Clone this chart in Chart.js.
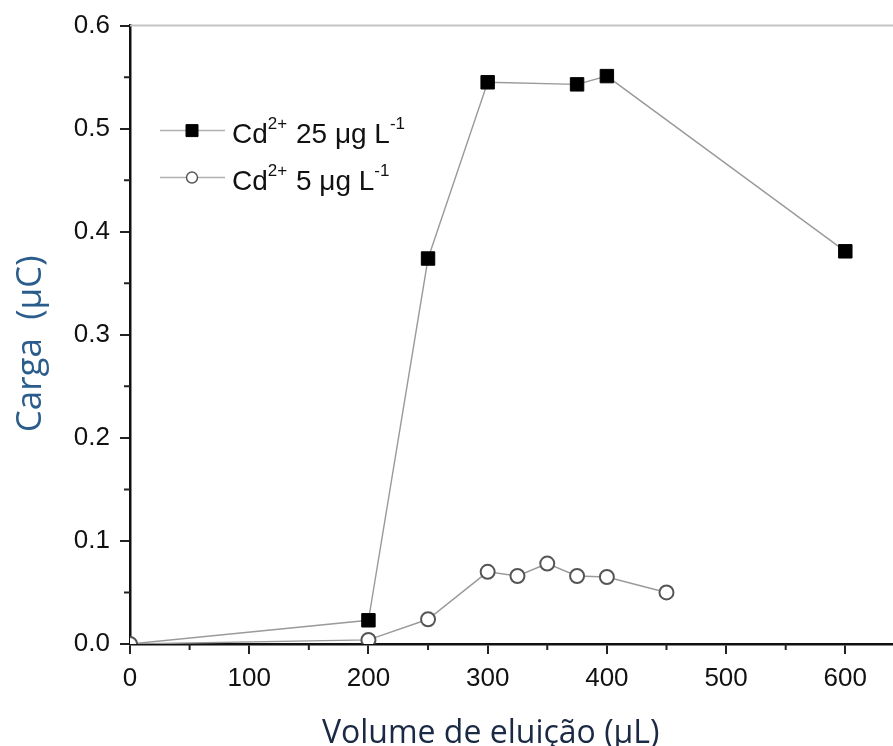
<!DOCTYPE html>
<html>
<head>
<meta charset="utf-8">
<script src="https://cdn.jsdelivr.net/npm/chart.js@4.4.1/dist/chart.umd.min.js"></script>
<style>
  html, body { margin: 0; padding: 0; background: #fff; overflow: hidden; }
  #wrap { width: 893px; height: 746px; }
</style>
</head>
<body>
<div id="wrap"><canvas id="chart"></canvas></div>
<script>
// Dados
const volume25 = [0, 200, 250, 300, 375, 400, 600];
const carga25 = [0, 0.023, 0.374, 0.545, 0.543, 0.551, 0.381];

const volume5 = [0, 200, 250, 300, 325, 350, 375, 400, 450];
const carga5 = [0, 0.004, 0.024, 0.070, 0.066, 0.078, 0.066, 0.065, 0.050];

// legenda com sobrescritos: [texto, sobrescrito?]
const legend25 = [['Cd', false], ['2+', true], [' 25 μg L', false], ['-1', true]];
const legend5 = [['Cd', false], ['2+', true], [' 5 μg L', false], ['-1', true]];

const xTitle = 'Volume de eluição (μL)';
const yTitle = 'Carga  (μC)';

const toPoints = (xs, ys) => xs.map((x, i) => ({ x: x, y: ys[i] }));

// Legenda desenhada dentro da área do gráfico
const insideLegend = {
    id: 'insideLegend',
    afterDraw(chart) {
        const ctx = chart.ctx;
        const area = chart.chartArea;
        const rows = [legend25, legend5];
        ctx.save();
        rows.forEach((parts, i) => {
            const ds = chart.data.datasets[i];
            const y = area.top + 105 + i * 47;
            const x0 = area.left + 30;
            ctx.strokeStyle = '#b0b0b0';
            ctx.lineWidth = 1.5;
            ctx.beginPath();
            ctx.moveTo(x0, y);
            ctx.lineTo(x0 + 65, y);
            ctx.stroke();
            ctx.fillStyle = ds.pointBackgroundColor;
            ctx.strokeStyle = ds.pointBorderColor;
            ctx.lineWidth = ds.pointStyle === 'rect' ? 1 : 1.5;
            ctx.beginPath();
            if (ds.pointStyle === 'rect') {
                ctx.rect(x0 + 26, y - 6, 12, 12);
            } else {
                ctx.arc(x0 + 32, y, 5.5, 0, Math.PI * 2);
            }
            ctx.fill();
            ctx.stroke();

            let x = x0 + 72;
            ctx.fillStyle = '#111';
            ctx.textBaseline = 'alphabetic';
            parts.forEach(([t, sup]) => {
                ctx.font = sup ? '17px "Liberation Sans", Arial' : '28px "Liberation Sans", Arial';
                ctx.fillText(t, x, sup ? y - 2 : y + 12);
                x += ctx.measureText(t).width + (sup ? 1 : 0);
            });
        });
        ctx.restore();
    }
};

// Ticks menores e linha superior cinzenta
const axisExtras = {
    id: 'axisExtras',
    afterDraw(chart) {
        const ctx = chart.ctx;
        const area = chart.chartArea;
        const xs = chart.scales.x;
        const ys = chart.scales.y;
        ctx.save();
        ctx.strokeStyle = '#c4c4c4';
        ctx.lineWidth = 2;
        ctx.beginPath();
        ctx.moveTo(area.left, area.top);
        ctx.lineTo(area.right, area.top);
        ctx.stroke();

        ctx.strokeStyle = '#222';
        ctx.lineWidth = 2;
        ctx.beginPath();
        for (let v = 50; v < xs.max; v += 100) {
            const px = xs.getPixelForValue(v);
            ctx.moveTo(px, area.bottom);
            ctx.lineTo(px, area.bottom + 6);
        }
        for (let v = 0.05; v < ys.max; v += 0.1) {
            const py = ys.getPixelForValue(v);
            ctx.moveTo(area.left, py);
            ctx.lineTo(area.left - 6, py);
        }
        ctx.stroke();
        ctx.restore();
    }
};

new Chart(document.getElementById('chart'), {
    type: 'scatter',
    data: {
        datasets: [
            {
                label: 'Cd2+ 25 μg L-1',
                data: toPoints(volume25, carga25),
                showLine: true,
                borderColor: '#9a9a9a',
                borderWidth: 1.4,
                pointStyle: 'rect',
                pointRadius: ctx => ctx.dataIndex === 0 ? 0 : 9.5,
                pointBackgroundColor: '#000',
                pointBorderColor: '#000',
                pointBorderWidth: 1,
                order: 2,
                clip: 0
            },
            {
                label: 'Cd2+ 5 μg L-1',
                data: toPoints(volume5, carga5),
                showLine: true,
                borderColor: '#9a9a9a',
                borderWidth: 1.4,
                pointStyle: 'circle',
                pointRadius: 7,
                pointBackgroundColor: '#fff',
                pointBorderColor: '#555',
                pointBorderWidth: 2,
                order: 1,
                clip: 0
            }
        ]
    },
    options: {
        responsive: true,
        maintainAspectRatio: false,
        animation: false,
        layout: {
            autoPadding: false,
            padding: { top: 25, right: 0, left: 0, bottom: 0 }
        },
        plugins: {
            legend: { display: false },
            tooltip: { enabled: false }
        },
        scales: {
            x: {
                type: 'linear',
                min: 0,
                max: 640,
                afterFit: scale => { scale.height = 102; },
                border: { display: true, color: '#111', width: 2.5 },
                grid: { drawOnChartArea: false, drawTicks: true, tickLength: 10, color: '#222', lineWidth: 2 },
                ticks: {
                    stepSize: 100,
                    includeBounds: false,
                    maxRotation: 0,
                    padding: 9,
                    color: '#111',
                    font: { family: '"Liberation Sans", Arial', size: 26 }
                },
                title: {
                    display: true,
                    text: xTitle + '\u00a0\u00a0\u00a0\u00a0\u00a0',
                    color: '#1b2a44',
                    padding: { top: -7, bottom: -7 },
                    font: { family: '"Open Sans"', size: 32 }
                }
            },
            y: {
                min: 0,
                max: 0.6,
                afterFit: scale => { scale.width = 130; },
                border: { display: true, color: '#111', width: 2.5 },
                grid: { drawOnChartArea: false, drawTicks: true, tickLength: 10, color: '#222', lineWidth: 2 },
                ticks: {
                    stepSize: 0.1,
                    padding: 10,
                    color: '#111',
                    font: { family: '"Liberation Sans", Arial', size: 26 },
                    callback: v => v.toFixed(1)
                },
                title: {
                    display: true,
                    text: yTitle + '\u00a0\u00a0',
                    color: '#2a5d8c',
                    padding: { top: 10, bottom: 10 },
                    font: { family: '"Open Sans"', size: 35 }
                }
            }
        }
    },
    plugins: [insideLegend, axisExtras]
});
</script>
</body>
</html>
